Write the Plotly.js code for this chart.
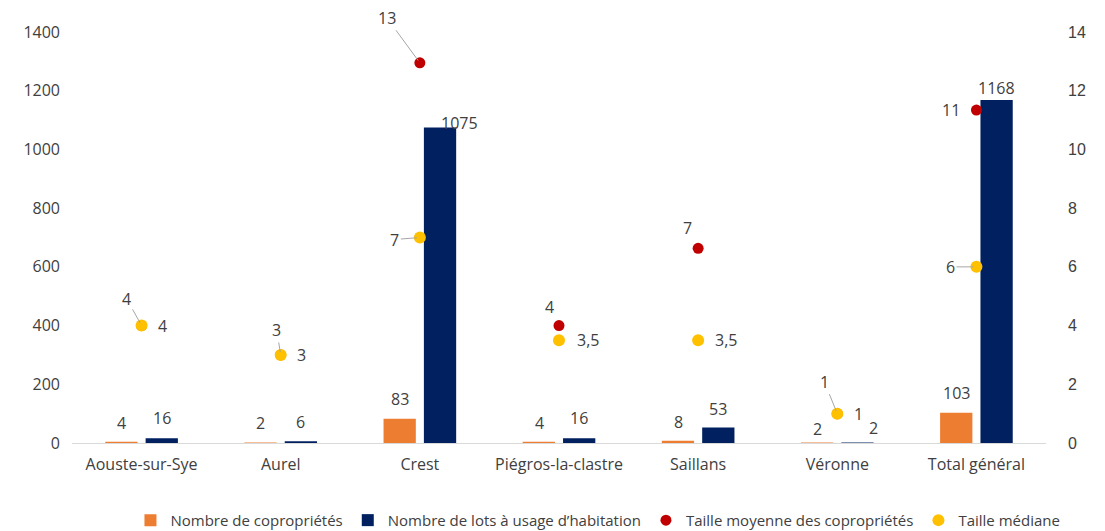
<!DOCTYPE html>
<html>
<head>
<meta charset="utf-8">
<script src="https://cdn.plot.ly/plotly-3.0.1.min.js"></script>
<style>html,body{margin:0;padding:0;background:#fff;}#chart{width:1105px;height:531px;}</style>
</head>
<body>
<div id="chart"></div>
<script>
// ---- Data ----
const communes = ["Aouste-sur-Sye", "Aurel", "Crest", "Piégros-la-clastre", "Saillans", "Véronne", "Total général"];
const nbCoproprietes = [4, 2, 83, 4, 8, 2, 103];
const nbLotsHabitation = [16, 6, 1075, 16, 53, 2, 1168];
const tailleMoyenne = [4, 3, 12.95, 4, 6.63, 1, 11.34];
const tailleMediane = [4, 3, 7, 3.5, 3.5, 1, 6];
const leftTicks = [0, 200, 400, 600, 800, 1000, 1200, 1400];
const rightTicks = [0, 2, 4, 6, 8, 10, 12, 14];

// ---- Label placement (pixel offsets; leader = draw leader line) ----
const moyLabelPos = [
  {ax: -15, ay: -27, leader: true},
  {ax: -4, ay: -25, leader: true},
  {ax: -33, ay: -45, leader: true},
  {ax: -10, ay: -19, leader: false},
  {ax: -11, ay: -20, leader: false},
  {ax: -13, ay: -32, leader: true},
  {ax: -25, ay: 0, leader: false}
];
const medLabelPos = [
  {ax: 21, ay: 0, leader: false},
  {ax: 21, ay: 0, leader: false},
  {ax: -25, ay: 2, leader: true},
  {ax: 29, ay: 0, leader: false},
  {ax: 28, ay: 0, leader: false},
  {ax: 21, ay: 0, leader: false},
  {ax: -26, ay: 0, leader: true}
];
const coproLabelShift = [{dx: -20, dy: 19}, {dx: -20, dy: 19}, {dx: -20, dy: 20}, {dx: -20, dy: 19}, {dx: -20, dy: 19}, {dx: -20, dy: 13}, {dx: -20, dy: 20}];
const lotsLabelShift = [{dx: 20, dy: 20}, {dx: 20, dy: 19}, {dx: 40, dy: 4}, {dx: 20, dy: 20}, {dx: 20, dy: 18}, {dx: 36, dy: 14}, {dx: 20, dy: 12}];

const FONT = "'Open Sans', 'Noto Sans', sans-serif";
const TXT = "#404040";

function fmtMed(v) { return String(v).replace('.', ','); }
function fmtMoy(v) { return String(Math.round(v)); }

function makeAnn(x, y, text, pos) {
  const a = {
    x: x, y: y, xref: 'x', yref: 'y2', text: text,
    font: {family: FONT, size: 16, color: TXT},
    xanchor: 'center', yanchor: 'middle'
  };
  if (pos.leader) {
    Object.assign(a, {showarrow: true, arrowhead: 0, arrowwidth: 1, arrowcolor: '#A6A6A6',
      ax: pos.ax, ay: pos.ay, standoff: 3});
  } else {
    Object.assign(a, {showarrow: false, xshift: pos.ax, yshift: -pos.ay});
  }
  return a;
}
function barAnn(x, y, s) {
  return {x: x, y: y, xref: 'x', yref: 'y', text: String(y), showarrow: false,
    xanchor: 'center', yanchor: 'middle', xshift: s.dx, yshift: s.dy,
    font: {family: FONT, size: 16, color: TXT}};
}

const annotations = [];
communes.forEach((c, i) => {
  annotations.push(barAnn(c, nbCoproprietes[i], coproLabelShift[i]));
  annotations.push(barAnn(c, nbLotsHabitation[i], lotsLabelShift[i]));
  annotations.push(makeAnn(c, tailleMoyenne[i], fmtMoy(tailleMoyenne[i]), moyLabelPos[i]));
  annotations.push(makeAnn(c, tailleMediane[i], fmtMed(tailleMediane[i]), medLabelPos[i]));
});

const traces = [
  {
    type: 'bar', name: 'Nombre de copropriétés', x: communes, y: nbCoproprietes,
    marker: {color: '#ED7D31'}, yaxis: 'y'
  },
  {
    type: 'bar', name: 'Nombre de lots à usage d’habitation', x: communes, y: nbLotsHabitation,
    marker: {color: '#002060'}, yaxis: 'y'
  },
  {
    type: 'scatter', mode: 'markers', name: 'Taille moyenne des copropriétés', x: communes, y: tailleMoyenne,
    marker: {color: '#C00000', size: 11}, yaxis: 'y2', cliponaxis: false
  },
  {
    type: 'scatter', mode: 'markers', name: 'Taille médiane', x: communes, y: tailleMediane,
    marker: {color: '#FFC000', size: 12}, yaxis: 'y2', cliponaxis: false
  }
];

const layout = {
  width: 1105, height: 531,
  margin: {l: 72, r: 59, t: 32, b: 88},
  paper_bgcolor: '#fff', plot_bgcolor: '#fff',
  font: {family: FONT, size: 16, color: TXT},
  barmode: 'group', bargap: 0.42, bargroupgap: 0.2,
  showlegend: true,
  legend: {orientation: 'h', x: 0.54, xanchor: 'center', yref: 'container', y: 0.02, yanchor: 'middle',
    font: {family: FONT, size: 15, color: TXT}, itemwidth: 30, tracegroupgap: 0},
  xaxis: {
    showgrid: false, showline: true, linecolor: '#D9D9D9', linewidth: 1,
    ticks: '', tickfont: {family: FONT, size: 16, color: TXT}, ticklabelstandoff: 7, fixedrange: true
  },
  yaxis: {
    range: [0, 1400], tickvals: leftTicks, ticktext: leftTicks.map(String),
    showgrid: false, zeroline: false, showline: false, ticks: '',
    tickfont: {family: FONT, size: 16, color: TXT}, ticklabelstandoff: 11
  },
  yaxis2: {
    range: [0, 14], tickvals: rightTicks, ticktext: rightTicks.map(String),
    overlaying: 'y', side: 'right', showgrid: false, zeroline: false, showline: false, ticks: '',
    tickfont: {family: "'Liberation Sans', Arial, sans-serif", size: 16, color: '#404040'}, ticklabelstandoff: 21
  },
  annotations: annotations
};

Plotly.newPlot('chart', traces, layout, {displayModeBar: false, staticPlot: true});
</script>
</body>
</html>
